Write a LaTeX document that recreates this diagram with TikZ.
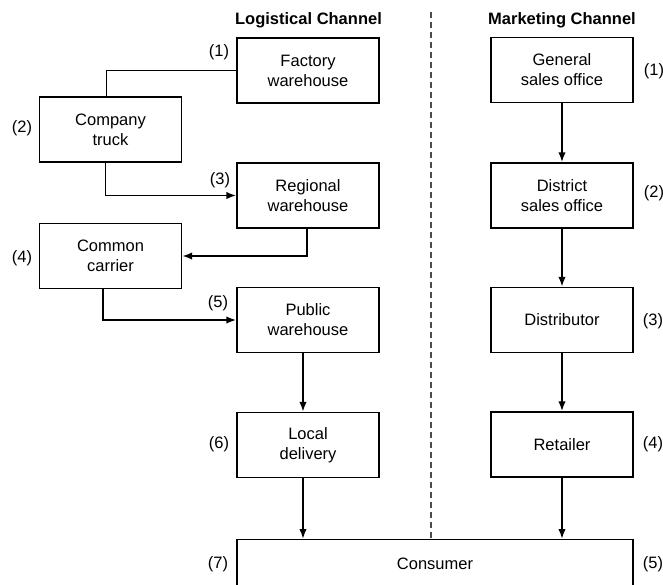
\documentclass[tikz,border=0pt]{standalone}
\usepackage{fontspec}
\setmainfont{Liberation Sans}
\usetikzlibrary{arrows.meta}
\begin{document}
\begin{tikzpicture}[x=1pt,y=-1pt,
  every node/.style={font=\fontsize{16.5}{20}\selectfont},
  box/.style={draw, line width=1.4pt, minimum width=142pt, minimum height=65pt,
              inner sep=0pt, align=center},
  num/.style={inner sep=0pt},
  head/.style={inner sep=0pt, font=\fontsize{16.5}{20}\selectfont\bfseries},
  link/.style={line width=1.9pt},
  arr/.style={link, -{Latex[length=10pt,width=7.5pt]}},
  divider/.style={line width=1.2pt, black!70, dash pattern=on 6pt off 4pt}
]
\useasboundingbox (0,0) rectangle (663,584);
\clip (0,0) rectangle (663,584);

% column headings
\node[head] (lh) at (308.5,20) {Logistical Channel};
\node[head] (mh) at (562,20) {Marketing Channel};

% logistical channel
\node[box] (fac)   at (308,70.5)  {Factory\\warehouse};
\node[box] (truck) at (110.5,129.5) {Company\\truck};
\node[box] (reg)   at (308,195.5) {Regional\\warehouse};
\node[box] (car)   at (110.5,256) {Common\\carrier};
\node[box] (pub)   at (308,320)   {Public\\warehouse};
\node[box] (loc)   at (308,445)   {Local\\delivery};

% marketing channel
\node[box] (gen) at (562,70)    {General\\sales office};
\node[box] (dis) at (562,195.5) {District\\sales office};
\node[box] (dst) at (562,320)   {Distributor};
\node[box] (ret) at (562,444.5) {Retailer};

% consumer (runs off the lower edge)
\node[draw, line width=1.4pt, minimum width=396pt, minimum height=110pt,
      inner sep=0pt, anchor=north] (con) at (435,539) {};
\node (contxt) at (435,564) {Consumer};

% step numbers
\node[num] (l1) at (219,52)  {(1)};
\node[num] (l2) at (22,128)  {(2)};
\node[num] (l3) at (220,180) {(3)};
\node[num] (l4) at (22,258)  {(4)};
\node[num] (l5) at (218,303) {(5)};
\node[num] (l6) at (219,444) {(6)};
\node[num] (l7) at (218,564) {(7)};
\node[num] (r1) at (654,71)  {(1)};
\node[num] (r2) at (654,193) {(2)};
\node[num] (r3) at (653,321) {(3)};
\node[num] (r4) at (653,444) {(4)};
\node[num] (r5) at (653,564) {(5)};

% dividing line
\coordinate (dtop) at (431,12);
\draw[divider] (dtop) -- (dtop |- con.north);

% logistical flow
\draw[link] (fac.west) -| ([xshift=-4pt]truck.north);
\draw[arr] ([xshift=-5pt]truck.south) |- (reg.west);
\draw[arr] ([xshift=-1pt]reg.south) |- (car.east);
\draw[arr] ([xshift=-7.5pt]car.south) |- (pub.west);
\draw[arr] ([xshift=-5pt]pub.south) -- ([xshift=-5pt]loc.north);
\coordinate (ld) at ([xshift=-5pt]loc.south);
\draw[arr] (ld) -- (ld |- con.north);

% marketing flow
\draw[arr] (gen) -- (dis);
\draw[arr] (dis) -- (dst);
\draw[arr] (dst) -- (ret);
\draw[arr] (ret.south) -- (ret.south |- con.north);
\end{tikzpicture}
\end{document}
